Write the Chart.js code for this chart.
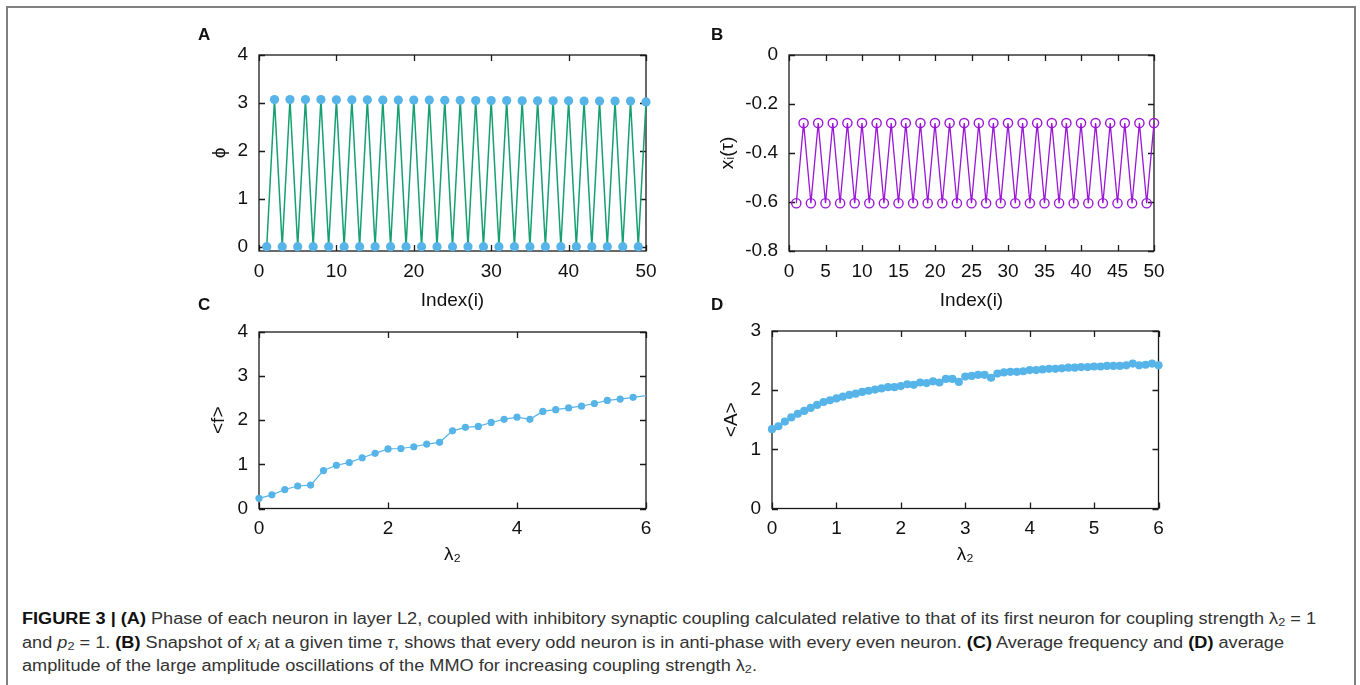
<!DOCTYPE html>
<html><head><meta charset="utf-8">
<script src="https://cdn.jsdelivr.net/npm/chart.js@4.4.1/dist/chart.umd.min.js"></script>
<style>
html,body{margin:0;padding:0;background:#fff;}
#wrap{position:relative;width:1360px;height:685px;overflow:hidden;background:#fff;}
canvas{position:absolute;}
.frame{position:absolute;left:6px;top:6px;width:1350px;height:720px;border:2px solid #808080;box-sizing:border-box;}
.lbl{position:absolute;font-family:"Liberation Sans",Arial,sans-serif;font-weight:bold;font-size:17px;color:#111;line-height:20px;}
.cap{position:absolute;left:22px;white-space:nowrap;font-family:"Liberation Sans Narrow","Liberation Sans",Arial,sans-serif;font-size:16px;color:#333;line-height:20px;transform-origin:0 50%;}
.cap b{color:#111;}
.cap sub{font-size:70%;vertical-align:-0.2em;line-height:0;}
</style></head>
<body>
<div id="wrap">
  <div class="frame"></div>
  <canvas id="cA" width="480" height="280" style="left:190px;top:40px"></canvas>
  <canvas id="cB" width="480" height="280" style="left:700px;top:40px"></canvas>
  <canvas id="cC" width="480" height="260" style="left:190px;top:320px"></canvas>
  <canvas id="cD" width="480" height="260" style="left:700px;top:320px"></canvas>
  <div class="lbl" style="left:198px;top:25px">A</div>
  <div class="lbl" style="left:711px;top:25px">B</div>
  <div class="lbl" style="left:198px;top:295px">C</div>
  <div class="lbl" style="left:711px;top:295px">D</div>
  <div class="cap" id="l1" style="top:609px"><b>FIGURE 3 | (A)</b> Phase of each neuron in layer L2, coupled with inhibitory synaptic coupling calculated relative to that of its first neuron for coupling strength λ<sub>2</sub> = 1</div>
  <div class="cap" id="l2" style="top:633px">and <i>p</i><sub>2</sub> = 1. <b>(B)</b> Snapshot of <i>x<sub>i</sub></i> at a given time <i>τ</i>, shows that every odd neuron is in anti-phase with every even neuron. <b>(C)</b> Average frequency and <b>(D)</b> average</div>
  <div class="cap" id="l3" style="top:656px">amplitude of the large amplitude oscillations of the MMO for increasing coupling strength λ<sub>2</sub>.</div>
</div>
<script>
// ---------- data ----------
const indexA = [1,2,3,4,5,6,7,8,9,10,11,12,13,14,15,16,17,18,19,20,21,22,23,24,25,26,27,28,29,30,31,32,33,34,35,36,37,38,39,40,41,42,43,44,45,46,47,48,49,50];
const phiA = [0,3.07,0,3.07,0,3.07,0,3.07,0,3.065,0,3.065,0,3.065,0,3.06,0,3.06,0,3.06,0,3.06,0,3.055,0,3.055,0,3.05,0,3.05,0,3.05,0,3.045,0,3.045,0,3.045,0,3.045,0,3.04,0,3.04,0,3.04,0,3.04,0,3.02];
const indexB = [1,2,3,4,5,6,7,8,9,10,11,12,13,14,15,16,17,18,19,20,21,22,23,24,25,26,27,28,29,30,31,32,33,34,35,36,37,38,39,40,41,42,43,44,45,46,47,48,49,50];
const xB = [-0.605,-0.278,-0.605,-0.278,-0.605,-0.278,-0.605,-0.278,-0.605,-0.278,-0.605,-0.278,-0.605,-0.278,-0.605,-0.278,-0.605,-0.278,-0.605,-0.278,-0.605,-0.278,-0.605,-0.278,-0.605,-0.278,-0.605,-0.278,-0.605,-0.278,-0.605,-0.278,-0.605,-0.278,-0.605,-0.278,-0.605,-0.278,-0.605,-0.278,-0.605,-0.278,-0.605,-0.278,-0.605,-0.278,-0.605,-0.278,-0.605,-0.278];
const lambdaC = [0,0.2,0.4,0.6,0.8,1.0,1.2,1.4,1.6,1.8,2.0,2.2,2.4,2.6,2.8,3.0,3.2,3.4,3.6,3.8,4.0,4.2,4.4,4.6,4.8,5.0,5.2,5.4,5.6,5.8,6.0];
const freqC = [0.23,0.31,0.43,0.51,0.53,0.86,0.98,1.04,1.15,1.25,1.35,1.36,1.40,1.46,1.50,1.76,1.84,1.86,1.95,2.02,2.07,2.02,2.20,2.24,2.28,2.32,2.38,2.45,2.48,2.52,2.56];
const lambdaD = [0,0.1,0.2,0.3,0.4,0.5,0.6,0.7,0.8,0.9,1.0,1.1,1.2,1.3,1.4,1.5,1.6,1.7,1.8,1.9,2.0,2.1,2.2,2.3,2.4,2.5,2.6,2.7,2.8,2.9,3.0,3.1,3.2,3.3,3.4,3.5,3.6,3.7,3.8,3.9,4.0,4.1,4.2,4.3,4.4,4.5,4.6,4.7,4.8,4.9,5.0,5.1,5.2,5.3,5.4,5.5,5.6,5.7,5.8,5.9,6.0];
const ampD = [1.34,1.39,1.47,1.54,1.60,1.65,1.70,1.75,1.80,1.83,1.86,1.89,1.92,1.94,1.97,1.99,2.01,2.03,2.05,2.05,2.07,2.10,2.09,2.13,2.12,2.15,2.13,2.19,2.19,2.14,2.23,2.24,2.26,2.26,2.21,2.28,2.30,2.31,2.31,2.32,2.34,2.34,2.35,2.36,2.36,2.37,2.38,2.38,2.39,2.39,2.40,2.40,2.41,2.41,2.41,2.42,2.45,2.42,2.43,2.45,2.42];
const ticksAx = [0,10,20,30,40,50];
const ticksAy = [0,1,2,3,4];
const ticksBx = [0,5,10,15,20,25,30,35,40,45,50];
const ticksBy = [0,-0.2,-0.4,-0.6,-0.8];
const ticksCx = [0,2,4,6];
const ticksCy = [0,1,2,3,4];
const ticksDx = [0,1,2,3,4,5,6];
const ticksDy = [0,1,2,3];

// ---------- styling ----------
const SKY = '#56b4e9', GREEN = '#16a06f', VIOLET = '#9b17d6';
Chart.defaults.font.family = '"Liberation Sans", Arial, sans-serif';
Chart.defaults.font.size = 19;
Chart.defaults.color = '#111';

const frameTicks = {
  id: 'frameTicks',
  beforeDatasetsDraw(chart) {
    const {ctx, chartArea: a, scales: {x, y}} = chart;
    ctx.save();
    ctx.strokeStyle = '#1a1a1a';
    ctx.lineWidth = 1.3;
    ctx.beginPath();
    x.ticks.forEach(t => {
      const p = Math.round(x.getPixelForValue(t.value)) + 0.5;
      ctx.moveTo(p, a.bottom); ctx.lineTo(p, a.bottom - 6);
      ctx.moveTo(p, a.top); ctx.lineTo(p, a.top + 6);
    });
    y.ticks.forEach(t => {
      const p = Math.round(y.getPixelForValue(t.value)) + 0.5;
      ctx.moveTo(a.left, p); ctx.lineTo(a.left + 6, p);
      ctx.moveTo(a.right, p); ctx.lineTo(a.right - 6, p);
    });
    ctx.stroke();
    ctx.strokeRect(a.left, a.top, a.right - a.left, a.bottom - a.top);
    ctx.restore();
  }
};

function makeChart(id, cfg) {
  const pts = cfg.xs.map((v, i) => ({x: v, y: cfg.ys[i]}));
  return new Chart(document.getElementById(id), {
    type: 'scatter',
    data: {datasets: [{
      data: pts,
      showLine: cfg.showLine,
      borderColor: cfg.lineColor,
      borderWidth: cfg.lineWidth,
      pointRadius: cfg.pointRadius,
      pointBackgroundColor: cfg.pointFill,
      pointBorderColor: cfg.pointStroke,
      pointBorderWidth: cfg.pointBorderWidth,
      clip: false,
      tension: 0
    }]},
    options: {
      responsive: false,
      animation: false,
      devicePixelRatio: 1,
      events: [],
      layout: {padding: cfg.pad},
      plugins: {legend: {display: false}, tooltip: {enabled: false}},
      scales: {
        x: {
          type: 'linear', min: cfg.xmin, max: cfg.xmax,
          grid: {display: false, drawTicks: false},
          border: {display: false},
          ticks: {padding: cfg.xTickPad, maxRotation: 0, autoSkip: false, callback: v => String(v)},
          afterBuildTicks: s => { s.ticks = cfg.xticks.map(v => ({value: v})); },
          afterFit: s => { s.height = cfg.xH; s.paddingLeft = 0; s.paddingRight = 0; },
          title: {display: true, text: cfg.xTitle, padding: {top: 0, bottom: cfg.xTitlePad}, font: {size: 19}}
        },
        y: {
          type: 'linear', min: cfg.ymin, max: cfg.ymax,
          grid: {display: false, drawTicks: false},
          border: {display: false},
          ticks: {padding: cfg.yTickPad, autoSkip: false, callback: v => String(v)},
          afterBuildTicks: s => { s.ticks = cfg.yticks.map(v => ({value: v})); },
          afterFit: s => { s.width = cfg.yW; s.paddingTop = 0; s.paddingBottom = 0; },
          title: {display: true, text: cfg.yTitle, padding: {top: cfg.yTitlePad, bottom: 0}, font: {size: 19}}
        }
      }
    },
    plugins: [frameTicks]
  });
}

makeChart('cA', {
  xs: indexA, ys: phiA, showLine: true, lineColor: GREEN, lineWidth: 1.5,
  pointRadius: 4.6, pointFill: SKY, pointStroke: SKY, pointBorderWidth: 0,
  pad: {left: 0, top: 15, right: 24, bottom: 0},
  xmin: 0, xmax: 50, ymin: -0.09, ymax: 4, xticks: ticksAx, yticks: ticksAy,
  xTitle: 'Index(i)', yTitle: 'ϕ', xH: 69, yW: 69,
  xTickPad: 9, yTickPad: 11, xTitlePad: 8, yTitlePad: 18
});
makeChart('cB', {
  xs: indexB, ys: xB, showLine: true, lineColor: VIOLET, lineWidth: 1.3,
  pointRadius: 4.6, pointFill: 'rgba(0,0,0,0)', pointStroke: VIOLET, pointBorderWidth: 1.4,
  pad: {left: 0, top: 15, right: 26, bottom: 0},
  xmin: 0, xmax: 50, ymin: -0.8, ymax: 0, xticks: ticksBx, yticks: ticksBy,
  xTitle: 'Index(i)', yTitle: 'xᵢ(τ)', xH: 69, yW: 89,
  xTickPad: 9, yTickPad: 11, xTitlePad: 8, yTitlePad: 16
});
makeChart('cC', {
  xs: lambdaC, ys: freqC, showLine: true, lineColor: SKY, lineWidth: 1.2,
  pointRadius: freqC.map((v, i) => i === freqC.length - 1 ? 0 : 3.6), pointFill: SKY, pointStroke: SKY, pointBorderWidth: 0,
  pad: {left: 0, top: 12, right: 24, bottom: 0},
  xmin: 0, xmax: 6, ymin: 0, ymax: 4, xticks: ticksCx, yticks: ticksCy,
  xTitle: 'λ₂', yTitle: '<f>', xH: 71.5, yW: 69,
  xTickPad: 9, yTickPad: 11, xTitlePad: 14, yTitlePad: 17
});
makeChart('cD', {
  xs: lambdaD, ys: ampD, showLine: false, lineColor: SKY, lineWidth: 1,
  pointRadius: 4.1, pointFill: SKY, pointStroke: SKY, pointBorderWidth: 0,
  pad: {left: 0, top: 11, right: 21.5, bottom: 0},
  xmin: 0, xmax: 6, ymin: 0, ymax: 3, xticks: ticksDx, yticks: ticksDy,
  xTitle: 'λ₂', yTitle: '<A>', xH: 71.5, yW: 72,
  xTickPad: 9, yTickPad: 11, xTitlePad: 14, yTitlePad: 20
});

// caption: fit first line to its measured span, same scale for all lines
(function () {
  const l1 = document.getElementById('l1');
  const k = 1294 / l1.getBoundingClientRect().width;
  ['l1', 'l2', 'l3'].forEach(id => { document.getElementById(id).style.transform = 'scaleX(' + k + ')'; });
})();
</script>
</body></html>
